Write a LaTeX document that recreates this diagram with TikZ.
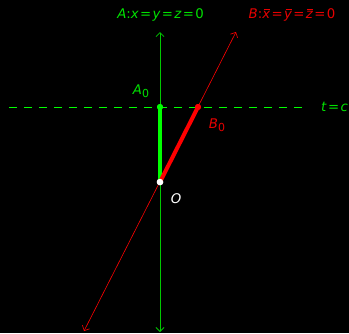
\documentclass[tikz,border=0pt]{standalone}
\usepackage{fontspec}
\setmainfont{DejaVu Sans}
\usetikzlibrary{arrows.meta}
\definecolor{axgreen}{RGB}{0,200,0}
\definecolor{lbgreen}{RGB}{0,225,0}
\definecolor{brgreen}{RGB}{0,255,0}
\definecolor{lbred}{RGB}{230,0,0}
\newcommand{\vi}[1]{\textit{#1}}
\newcommand{\veq}{\hspace{1.3pt}=\hspace{1.3pt}}
\newcommand{\vbar}[1]{\setbox0\hbox{\vi{#1}}\vbox{\offinterlineskip\hbox{\kern1.5pt\vrule width\dimexpr\wd0-1.5pt\relax height 0.9pt depth 0pt}\kern1.3pt\box0}}
\newcommand{\vsub}[1]{\raisebox{-3pt}{\fontsize{11}{12}\selectfont #1}}
\begin{document}
\begin{tikzpicture}[x=1pt,y=-1pt,
  lbl/.style={font=\fontsize{13.3}{15}\selectfont, inner sep=0pt},
  dot/.style={circle, inner sep=0pt, minimum size=6pt}]
\fill[black] (0,0) rectangle (349,333);
\useasboundingbox (0,0) rectangle (349,333);
% points
\coordinate (Atop) at (160,32);
\coordinate (Abot) at (160,332);
\coordinate (Btop) at (236,32);
\coordinate (Bbot) at (84,331);
\coordinate (Dl) at (9,107);
\coordinate (Dr) at (305,107);
% axes
\draw[axgreen, line width=0.8pt, {Straight Barb[length=4pt,width=8pt]}-{Straight Barb[length=4pt,width=8pt]}] (Abot) -- (Atop);
\draw[red, line width=0.6pt, {Straight Barb[length=4pt,width=8pt]}-{Straight Barb[length=4pt,width=8pt]}] (Bbot) -- (Btop);
\draw[brgreen, line width=0.8pt, dash pattern=on 8pt off 7pt] (Dl) -- (Dr);
% nodes
\node[dot, fill=brgreen] (A0) at (160,107) {};
\node[dot, fill=red] (B0) at (198,107) {};
\node[dot, fill=white, minimum size=6.5pt] (O) at (160,182) {};
\draw[brgreen, line width=4pt] (A0.center) -- (O.center);
\draw[red, line width=4pt] (O.center) -- (B0.center);
\node[dot, fill=brgreen] at (A0) {};
\node[dot, fill=red] at (B0) {};
\node[dot, fill=white, minimum size=6.5pt] at (O) {};
% labels
\node[lbl, text=lbgreen] (A0l) at (141,91) {\vi{A}\vsub{0}};
\node[lbl, text=lbred] (B0l) at (217,125) {\vi{B}\vsub{0}};
\node[lbl, text=white] (Ol) at (176,199) {\vi{O}};
\node[lbl, text=lbgreen, anchor=west] (tc) at (321,107) {\vi{t}\veq\vi{c}};
\node[lbl, text=lbgreen] (Al) at (160.5,15) {\vi{A}:\vi{x}\veq\vi{y}\veq\vi{z}\veq0};
\node[lbl, text=lbred] (Bl) at (292,15) {\vi{B}:\vbar{x}\veq\vbar{y}\veq\vbar{z}\veq0};
\end{tikzpicture}
\end{document}
